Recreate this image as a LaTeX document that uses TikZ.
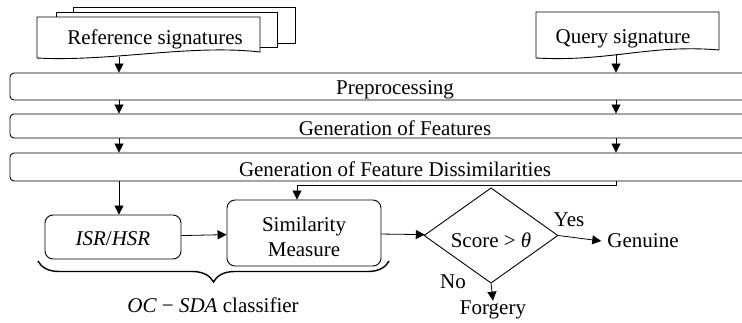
\documentclass[tikz,border=0pt]{standalone}
\usepackage{fontspec}
\setmainfont{Liberation Serif}
\usetikzlibrary{arrows.meta,shapes.geometric,decorations.pathreplacing}
\newcommand{\lowertext}[2]{\raisebox{-#1}[\height][\depth]{#2}}
\begin{document}
\begin{tikzpicture}[x=1pt,y=-1pt,
 font=\fontsize{21}{25}\selectfont,
 bar/.style={draw, rounded corners=4pt, line width=0.9pt, minimum width=770pt, inner sep=0pt},
 proc/.style={draw, rounded corners=8pt, line width=0.9pt, inner sep=0pt, align=center},
 docline/.style={draw, line width=0.9pt, fill=white},
 arr/.style={-{Triangle[length=9pt,width=9pt]}, line width=0.8pt},
 lbl/.style={inner sep=0pt}]
\clip (0,0) rectangle (742,322);
% reference document stack
\path[docline] (73,7) rectangle (295,43);
\path[docline] (56,12) rectangle (277,47);
\path[docline] (37,17) -- (260,17) -- (260,52) .. controls (190,44) and (110,62) .. (37,58) -- cycle;
\node[lbl] (refdoc) at (155,39) {Reference signatures};
\coordinate (refbot) at (119,57);
% query document
\path[docline] (536,12) -- (719,12) -- (719,50) .. controls (650,44) and (610,62) .. (536,58) -- cycle;
\node[lbl] (qdoc) at (623,39) {Query signature};
\coordinate (qbot) at (616,54);
% bars
\node[bar, minimum height=27pt] (pre) at (395,86.5) {\lowertext{3pt}{Preprocessing}};
\node[bar, minimum height=24pt] (feat) at (395,126) {\lowertext{2pt}{Generation of Features}};
\node[bar, minimum height=28pt] (dis) at (395,167) {\lowertext{2pt}{Generation of Feature Dissimilarities}};
% processes
\node[proc, minimum width=136pt, minimum height=44pt] (isr) at (113,237) {\lowertext{2pt}{\textit{ISR}/\textit{HSR}}};
\node[proc, minimum width=154pt, minimum height=66pt] (sim) at (304,233) {\lowertext{6pt}{\begin{tabular}{@{}c@{}}Similarity\\Measure\end{tabular}}};
\node[draw, diamond, line width=0.9pt, inner sep=0pt, minimum width=134pt, minimum height=69pt] (dec) at (491,235.5) {\lowertext{5pt}{Score > \textit{θ}}};
\node[lbl] (gen) at (643,241) {Genuine};
\node[lbl] (forg) at (493,310) {Forgery};
\node[lbl] (yes) at (569,220) {Yes};
\node[lbl] (no) at (453,282) {No};
% connectors
\draw[arr] (refbot) -- (refbot |- pre.north);
\draw[arr] (qbot) -- (qbot |- pre.north);
\draw[arr] (refbot |- pre.south) -- (refbot |- feat.north);
\draw[arr] (qbot |- pre.south) -- (qbot |- feat.north);
\draw[arr] (refbot |- feat.south) -- (refbot |- dis.north);
\draw[arr] (qbot |- feat.south) -- (qbot |- dis.north);
\draw[arr] (refbot |- dis.south) -- (refbot |- isr.north);
\draw[arr] (qbot |- dis.south) -- ++(0,4) -| ([xshift=-7pt]sim.north);
\draw[arr] (isr) -- (sim);
\draw[arr] (sim) -- (dec);
\draw[arr] (dec.east) -- ([xshift=-6pt]gen.west);
\draw[arr] (dec.south) -- (forg.north);
% brace
\draw[decorate, decoration={brace, amplitude=21pt, mirror}, line width=1.4pt] (38,261) -- (389,261);
\node[lbl] (cls) at (213,305) {\textit{OC} − \textit{SDA} classifier};
\end{tikzpicture}
\end{document}
